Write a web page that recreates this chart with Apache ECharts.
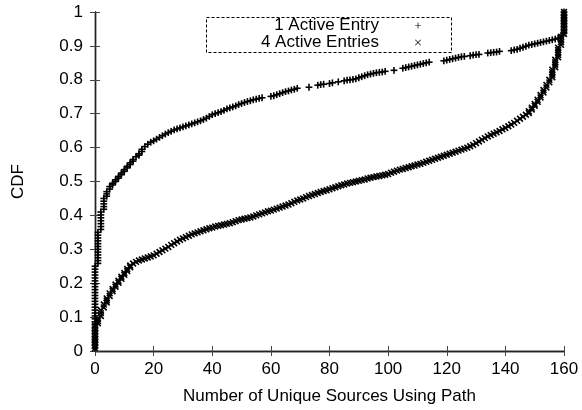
<!DOCTYPE html>
<html lang="en">
<head>
<meta charset="utf-8">
<title>CDF of unique sources</title>
<script src="https://cdn.jsdelivr.net/npm/echarts@6/dist/echarts.min.js"></script>
<style>
  html, body { margin: 0; padding: 0; background: #fff; }
  #main { width: 582px; height: 410px; }
</style>
</head>
<body>
<div id="main"></div>
<script type="text/javascript">
    var seriesNames = ['1 Active Entry', '4 Active Entries'];
    var xName = 'Number of Unique Sources Using Path';
    var yName = 'CDF';

    // CDF value reached at each x = 0..160 (index = number of sources), null = no sample there
    var entry1Cdf = [
        0.25, 0.35, 0.41, 0.45, 0.47, 0.485, 0.495, 0.505, 0.515, 0.525,
        0.535, 0.545, 0.555, 0.565, 0.573, 0.582, 0.595, 0.603, 0.61, 0.616,
        0.62, 0.625, 0.63, 0.635, 0.64, 0.644, 0.648, 0.652, 0.655, 0.658,
        0.661, 0.664, 0.667, 0.67, 0.673, 0.676, 0.679, 0.683, 0.687, 0.692,
        0.697, 0.7, 0.703, 0.706, 0.71, 0.714, 0.717, 0.72, 0.723, 0.727,
        0.73, 0.733, 0.736, 0.738, 0.741, 0.743, 0.745, 0.747, null, null,
        0.751, 0.753, 0.756, 0.759, 0.762, 0.765, 0.767, 0.77, 0.772, 0.775,
        null, null, null, 0.778, null, null, 0.784, 0.786, 0.787, null,
        0.789, 0.791, null, 0.794, null, 0.797, 0.799, 0.8, 0.801, 0.803,
        0.806, 0.809, 0.812, 0.815, 0.817, 0.819, 0.821, 0.822, 0.823, 0.825,
        null, null, 0.828, null, null, 0.834, 0.836, 0.838, 0.84, 0.842,
        0.844, 0.846, 0.848, 0.85, 0.852, null, null, null, null, 0.856,
        0.858, 0.86, 0.862, 0.864, 0.866, 0.868, 0.869, null, 0.871, 0.873,
        0.874, 0.875, null, null, 0.879, 0.88, 0.881, 0.882, 0.884, null,
        null, null, 0.886, 0.888, 0.89, 0.893, 0.896, 0.899, 0.902, 0.904,
        0.906, 0.908, 0.91, 0.912, 0.914, 0.916, 0.918, 0.92, 0.923, 0.93,
        1.0
    ];
    var entry4Cdf = [
        0.075, 0.095, 0.12, 0.137, 0.155, 0.17, 0.183, 0.196, 0.207, 0.219,
        0.23, 0.242, 0.252, 0.258, 0.263, 0.267, 0.27, 0.273, 0.276, 0.279,
        0.282, 0.287, 0.292, 0.297, 0.302, 0.307, 0.313, 0.318, 0.323, 0.328,
        0.332, 0.336, 0.34, 0.344, 0.347, 0.35, 0.353, 0.356, 0.359, 0.362,
        0.364, 0.367, 0.369, 0.371, 0.373, 0.375, 0.377, 0.38, 0.383, 0.386,
        0.388, 0.39, 0.392, 0.394, 0.397, 0.4, 0.403, 0.406, 0.409, 0.412,
        0.414, 0.417, 0.42, 0.423, 0.426, 0.429, 0.432, 0.436, 0.44, 0.444,
        0.447, 0.45, 0.454, 0.457, 0.46, 0.463, 0.466, 0.469, 0.472, 0.474,
        0.477, 0.48, 0.483, 0.486, 0.489, 0.491, 0.494, 0.496, 0.498, 0.5,
        0.502, 0.504, 0.506, 0.509, 0.511, 0.513, 0.515, 0.516, 0.518, 0.52,
        0.522, 0.526, 0.529, 0.532, 0.535, 0.537, 0.54, 0.542, 0.545, 0.547,
        0.55, 0.552, 0.555, 0.558, 0.561, 0.564, 0.567, 0.57, 0.573, 0.576,
        0.579, 0.582, 0.585, 0.588, 0.591, 0.594, 0.597, 0.6, 0.604, 0.608,
        0.613, 0.618, 0.623, 0.628, 0.633, 0.637, 0.641, 0.645, 0.649, 0.654,
        0.658, 0.663, 0.668, 0.673, 0.679, 0.685, 0.691, 0.697, 0.707, 0.718,
        0.729, 0.741, 0.755, 0.77, 0.785, 0.8, 0.83, 0.859, 0.895, 0.927,
        1.0
    ];

    var fontFamily = "'Liberation Sans', Arial, sans-serif";
    var plusIcon = 'path://M0,4.4H10V5.6H0ZM4.4,0H5.6V10H4.4Z';
    var crossIcon = 'path://M0,0.8L0.8,0L5,4.2L9.2,0L10,0.8L5.8,5L10,9.2L9.2,10L5,5.8L0.8,10L0,9.2L4.2,5Z';

    // each sample step: [x, cdf before, cdf after]
    function stepData(cdf) {
        var out = [], prev = 0;
        for (var x = 0; x < cdf.length; x++) {
            if (cdf[x] == null) continue;
            out.push([x, prev, cdf[x]]);
            prev = cdf[x];
        }
        return out;
    }

    function markerLines(kind, px, py) {
        var st = { stroke: '#000', lineWidth: 1.6 };
        if (kind === 'plus') {
            return [
                { type: 'line', shape: { x1: px - 3.4, y1: py, x2: px + 3.4, y2: py }, style: st },
                { type: 'line', shape: { x1: px, y1: py - 3.4, x2: px, y2: py + 3.4 }, style: st }
            ];
        }
        return [
            { type: 'line', shape: { x1: px - 2.9, y1: py - 2.9, x2: px + 2.9, y2: py + 2.9 }, style: st },
            { type: 'line', shape: { x1: px - 2.9, y1: py + 2.9, x2: px + 2.9, y2: py - 2.9 }, style: st }
        ];
    }

    function markerSeries(name, cdf, kind) {
        return {
            name: name,
            type: 'custom',
            coordinateSystem: 'cartesian2d',
            clip: false,
            itemStyle: { color: '#000' },
            encode: { x: 0, y: [1, 2] },
            data: stepData(cdf),
            renderItem: function (params, api) {
                var top = api.coord([api.value(0), api.value(2)]);
                var bot = api.coord([api.value(0), api.value(1)]);
                var n = Math.max(1, Math.ceil((bot[1] - top[1]) / 3));
                var kids = [];
                for (var i = 0; i < n; i++) {
                    var py = top[1] + i * (bot[1] - top[1]) / n;
                    kids = kids.concat(markerLines(kind, top[0], py));
                }
                return { type: 'group', children: kids };
            }
        };
    }

    var axisLineStyle = { color: '#222', width: 1.4 };
    var tickStyle = { color: '#444', width: 1 };
    var labelStyle = { fontFamily: fontFamily, fontSize: 17, color: '#000' };

    var myChart = echarts.init(document.getElementById('main'));

    myChart.setOption({
        animation: false,
        backgroundColor: '#fff',
        grid: { left: 95, right: 18, top: 12, bottom: 58 },
        legend: [{
            data: [{ name: seriesNames[0], icon: plusIcon }],
            right: 161, top: 17, padding: 0,
            align: 'right', selectedMode: false,
            itemWidth: 6, itemHeight: 6,
            textStyle: { fontFamily: fontFamily, fontSize: 17, color: '#000', padding: [0, 31, 0, 0] }
        }, {
            data: [{ name: seriesNames[1], icon: crossIcon }],
            right: 161, top: 34, padding: 0,
            align: 'right', selectedMode: false,
            itemWidth: 6, itemHeight: 6,
            textStyle: { fontFamily: fontFamily, fontSize: 17, color: '#000', padding: [0, 31, 0, 0] }
        }],
        graphic: [{
            type: 'rect',
            shape: { x: 206.5, y: 17.5, width: 245, height: 35 },
            style: { fill: 'none', stroke: '#000', lineWidth: 1, lineDash: [3, 2] },
            z: 10
        }],
        xAxis: [{
            type: 'value', min: 0, max: 160, interval: 20, position: 'bottom',
            name: xName, nameLocation: 'middle', nameGap: 37,
            nameTextStyle: labelStyle,
            axisLine: { show: true, lineStyle: axisLineStyle },
            axisTick: { show: true, inside: true, length: 5, lineStyle: tickStyle },
            axisLabel: Object.assign({ margin: 10 }, labelStyle),
            splitLine: { show: false }
        }, {
            type: 'value', min: 0, max: 160, interval: 20, position: 'top',
            axisLine: { show: true, lineStyle: axisLineStyle },
            axisTick: { show: true, inside: true, length: 5, lineStyle: tickStyle },
            axisLabel: { show: false },
            splitLine: { show: false }
        }],
        yAxis: [{
            type: 'value', min: 0, max: 1, interval: 0.1, position: 'left',
            name: yName, nameLocation: 'middle', nameGap: 68, nameRotate: 90,
            nameTextStyle: labelStyle,
            axisLine: { show: true, lineStyle: axisLineStyle },
            axisTick: { show: true, inside: true, length: 5, lineStyle: tickStyle },
            axisLabel: Object.assign({ margin: 12 }, labelStyle),
            splitLine: { show: false }
        }, {
            type: 'value', min: 0, max: 1, interval: 0.1, position: 'right',
            axisLine: { show: true, lineStyle: axisLineStyle },
            axisTick: { show: true, inside: true, length: 5, lineStyle: tickStyle },
            axisLabel: { show: false },
            splitLine: { show: false }
        }],
        series: [
            markerSeries(seriesNames[0], entry1Cdf, 'plus'),
            markerSeries(seriesNames[1], entry4Cdf, 'cross')
        ]
    });
</script>
</body>
</html>
